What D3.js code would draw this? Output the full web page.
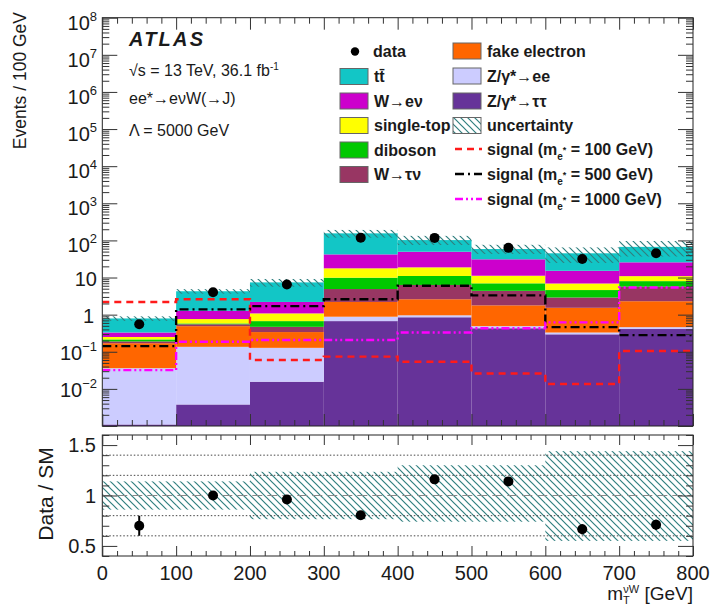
<!DOCTYPE html>
<html>
<head>
<meta charset="utf-8">
<script src="https://cdn.jsdelivr.net/npm/d3@7"></script>
<style>
  body { margin: 0; background: #fff; }
  svg { display: block; }
  text { font-family: "Liberation Sans", Arial, Helvetica, sans-serif; fill: #1a1a1a; }
</style>
</head>
<body>
<svg id="chart" width="712" height="606"></svg>
<script>
// bin edges in m_T (GeV)
const binEdges = [0, 100, 200, 300, 400, 500, 600, 700, 800];

// background components per bin (events / 100 GeV), bottom of stack first
const ztautau   = [0.0011, 0.0038, 0.0156, 0.67, 0.85, 0.43, 0.295, 0.41];
const zee       = [0.035, 0.132, 0.112, 0.21, 0.11, 0.06, 0.035, 0.05];
const fakeEl    = [0.134, 0.354, 0.212, 1.32, 1.64, 1.29, 1.2, 1.84];
const wtaunu    = [0.02, 0.06, 0.13, 2.7, 3.7, 2.6, 1.37, 3.35];
const diboson   = [0.025, 0.03, 0.2, 5.0, 4.7, 2.6, 1.7, 2.35];
const singleTop = [0.035, 0.18, 0.41, 7.8, 7.8, 4.2, 2.3, 2.9];
const wenu      = [0.08, 0.51, 1.12, 24.3, 30.7, 19.8, 8.3, 14.8];
const ttbar     = [0.46, 3.0, 5.2, 113, 52.5, 27.6, 29.8, 41.3];

// data
const dataEvents = [0.55, 4.0, 6.5, 118, 117, 63, 31.5, 45];
const ratio      = [0.70, 1.00, 0.96, 0.805, 1.16, 1.14, 0.665, 0.71];
const ratioErr   = [0.10, 0.03, 0.03, 0.02, 0.03, 0.04, 0.05, 0.05];

// relative systematic uncertainty on the SM prediction
const uncUp   = [0.14, 0.14, 0.235, 0.235, 0.30, 0.30, 0.44, 0.44];
const uncDown = [0.14, 0.14, 0.235, 0.235, 0.26, 0.26, 0.45, 0.45];

// signal hypotheses
const sig100  = [2.2, 2.6, 0.060, 0.074, 0.054, 0.026, 0.0135, 0.105];
const sig500  = [0.142, 1.39, 1.7, 2.6, 6.0, 3.3, 0.46, 0.28];
const sig1000 = [0.032, 0.186, 0.207, 0.207, 0.33, 0.43, 0.62, 5.4];

const bkgKeys   = ["ztautau", "zee", "fakeEl", "wtaunu", "diboson", "singleTop", "wenu", "ttbar"];
const bkgArrays = { ztautau, zee, fakeEl, wtaunu, diboson, singleTop, wenu, ttbar };
const colors = {
  ttbar: "#12c6c6", wenu: "#cc00cc", singleTop: "#ffff00", diboson: "#00c800",
  wtaunu: "#983663", fakeEl: "#ff6600", zee: "#ccccff", ztautau: "#663399"
};
const hatchColor = "#2f7f7f";

const svg = d3.select("#chart");
const L = 102.3, R = 693;
const mainTop = 17.7, mainBot = 426;
const ratTop = 435, ratBot = 556;

const x = d3.scaleLinear().domain([0, 800]).range([L, R]);
const y = d3.scaleLog().domain([1e-3, 1e8]).range([mainBot, mainTop]);
const yr = d3.scaleLinear().domain([0.4, 1.6]).range([ratBot, ratTop]);

// hatch pattern
const defs = svg.append("defs");
const pat = defs.append("pattern").attr("id", "hatch")
  .attr("patternUnits", "userSpaceOnUse").attr("width", 7).attr("height", 7);
pat.append("path").attr("d", "M-1,-1 L8,8 M-1,6 L1,8 M6,-1 L8,1")
  .attr("stroke", hatchColor).attr("stroke-width", 1.2);
defs.append("clipPath").attr("id", "clipMain").append("rect")
  .attr("x", L).attr("y", mainTop).attr("width", R - L).attr("height", mainBot - mainTop);
defs.append("clipPath").attr("id", "clipRat").append("rect")
  .attr("x", L).attr("y", ratTop).attr("width", R - L).attr("height", ratBot - ratTop);

// ---------- main panel ----------
const rows = binEdges.slice(0, -1).map((lo, i) => {
  const r = { lo, hi: binEdges[i + 1] };
  bkgKeys.forEach(k => r[k] = bkgArrays[k][i]);
  return r;
});
const stacked = d3.stack().keys(bkgKeys)(rows);
const totals = rows.map(r => d3.sum(bkgKeys, k => r[k]));

const gMain = svg.append("g").attr("clip-path", "url(#clipMain)");
gMain.selectAll("g.layer").data(stacked).join("g")
  .attr("class", "layer")
  .attr("fill", d => colors[d.key])
  .selectAll("rect").data(d => d).join("rect")
  .attr("x", d => x(d.data.lo))
  .attr("width", d => x(d.data.hi) - x(d.data.lo))
  .attr("y", d => y(d[1]))
  .attr("height", d => y(Math.max(d[0], 1e-3)) - y(d[1]));

// uncertainty band
gMain.selectAll("rect.unc").data(rows).join("rect")
  .attr("class", "unc")
  .attr("x", d => x(d.lo)).attr("width", d => x(d.hi) - x(d.lo))
  .attr("y", (d, i) => y(totals[i] * (1 + uncUp[i])))
  .attr("height", (d, i) => y(totals[i] * (1 - uncDown[i])) - y(totals[i] * (1 + uncUp[i])))
  .attr("fill", "url(#hatch)");

// signal step lines
function stepPoints(vals) {
  const pts = [];
  vals.forEach((v, i) => { pts.push([binEdges[i], v]); pts.push([binEdges[i + 1], v]); });
  return pts;
}
const line = d3.line().x(d => x(d[0])).y(d => y(d[1]));
const signals = [
  { vals: sig100, color: "#ff1a1a", dash: "7,5" },
  { vals: sig500, color: "#000000", dash: "9,4,2,4" },
  { vals: sig1000, color: "#ff00ff", dash: "8,3,2,3,2,3" }
];
gMain.selectAll("path.sig").data(signals).join("path")
  .attr("class", "sig")
  .attr("d", d => line(stepPoints(d.vals)))
  .attr("fill", "none").attr("stroke", d => d.color)
  .attr("stroke-width", 2.4).attr("stroke-dasharray", d => d.dash);

// data points
gMain.selectAll("circle.data").data(dataEvents).join("circle")
  .attr("class", "data")
  .attr("cx", (d, i) => x((binEdges[i] + binEdges[i + 1]) / 2))
  .attr("cy", d => y(d)).attr("r", 5).attr("fill", "#000");

// ---------- ratio panel ----------
const gRat = svg.append("g").attr("clip-path", "url(#clipRat)");
gRat.selectAll("rect.unc").data(rows).join("rect")
  .attr("x", d => x(d.lo)).attr("width", d => x(d.hi) - x(d.lo))
  .attr("y", (d, i) => yr(1 + uncUp[i]))
  .attr("height", (d, i) => yr(1 - uncDown[i]) - yr(1 + uncUp[i]))
  .attr("fill", "url(#hatch)");

const refLines = [0.6, 0.8, 1.2, 1.4];
gRat.selectAll("line.dot").data(refLines).join("line")
  .attr("x1", L).attr("x2", R).attr("y1", d => yr(d)).attr("y2", d => yr(d))
  .attr("stroke", "#444").attr("stroke-width", 1).attr("stroke-dasharray", "1.5,2");
gRat.append("line").attr("x1", L).attr("x2", R).attr("y1", yr(1)).attr("y2", yr(1))
  .attr("stroke", "#888").attr("stroke-width", 1.2).attr("stroke-dasharray", "10,5");

const cx = i => x((binEdges[i] + binEdges[i + 1]) / 2);
gRat.selectAll("line.err").data(ratio).join("line")
  .attr("x1", (d, i) => cx(i)).attr("x2", (d, i) => cx(i))
  .attr("y1", (d, i) => yr(d - ratioErr[i])).attr("y2", (d, i) => yr(d + ratioErr[i]))
  .attr("stroke", "#000").attr("stroke-width", 2);
gRat.selectAll("circle").data(ratio).join("circle")
  .attr("cx", (d, i) => cx(i)).attr("cy", d => yr(d)).attr("r", 5).attr("fill", "#000");

// ---------- frames & ticks ----------
function noDomain(g) { g.select(".domain").remove(); g.selectAll("line").attr("stroke", "#333"); }

[[mainTop, mainBot], [ratTop, ratBot]].forEach(([t, b]) => {
  svg.append("rect").attr("x", L).attr("y", t).attr("width", R - L).attr("height", b - t)
    .attr("fill", "none").attr("stroke", "#222").attr("stroke-width", 1);
});

const xMajor = d3.range(0, 801, 100);
const xMinor = d3.range(0, 801, 20).filter(v => v % 100 !== 0);
[[mainTop, mainBot, 12, 6], [ratTop, ratBot, 10, 5]].forEach(([t, b, big, small]) => {
  svg.append("g").attr("transform", `translate(0,${b})`)
    .call(d3.axisBottom(x).tickValues(xMajor).tickSize(-big).tickFormat("")).call(noDomain);
  svg.append("g").attr("transform", `translate(0,${b})`)
    .call(d3.axisBottom(x).tickValues(xMinor).tickSize(-small).tickFormat("")).call(noDomain);
  svg.append("g").attr("transform", `translate(0,${t})`)
    .call(d3.axisTop(x).tickValues(xMajor).tickSize(-big).tickFormat("")).call(noDomain);
  svg.append("g").attr("transform", `translate(0,${t})`)
    .call(d3.axisTop(x).tickValues(xMinor).tickSize(-small).tickFormat("")).call(noDomain);
});

const yMajor = d3.range(-3, 9).map(e => Math.pow(10, e));
const yMinor = [];
d3.range(-3, 8).forEach(e => { for (let m = 2; m <= 9; m++) yMinor.push(m * Math.pow(10, e)); });
svg.append("g").attr("transform", `translate(${L},0)`)
  .call(d3.axisLeft(y).tickValues(yMajor).tickSize(-15).tickFormat("")).call(noDomain);
svg.append("g").attr("transform", `translate(${L},0)`)
  .call(d3.axisLeft(y).tickValues(yMinor).tickSize(-7).tickFormat("")).call(noDomain);
svg.append("g").attr("transform", `translate(${R},0)`)
  .call(d3.axisRight(y).tickValues(yMajor).tickSize(-15).tickFormat("")).call(noDomain);
svg.append("g").attr("transform", `translate(${R},0)`)
  .call(d3.axisRight(y).tickValues(yMinor).tickSize(-7).tickFormat("")).call(noDomain);

const rMajor = [0.5, 1, 1.5];
const rMinor = d3.range(0.4, 1.61, 0.1).map(v => +v.toFixed(1)).filter(v => !rMajor.includes(v));
svg.append("g").attr("transform", `translate(${L},0)`)
  .call(d3.axisLeft(yr).tickValues(rMajor).tickSize(-15).tickFormat("")).call(noDomain);
svg.append("g").attr("transform", `translate(${L},0)`)
  .call(d3.axisLeft(yr).tickValues(rMinor).tickSize(-7).tickFormat("")).call(noDomain);
svg.append("g").attr("transform", `translate(${R},0)`)
  .call(d3.axisRight(yr).tickValues(rMajor).tickSize(-15).tickFormat("")).call(noDomain);
svg.append("g").attr("transform", `translate(${R},0)`)
  .call(d3.axisRight(yr).tickValues(rMinor).tickSize(-7).tickFormat("")).call(noDomain);

// ---------- tick labels ----------
const yLabelExp = d3.range(-2, 9);
yLabelExp.forEach(e => {
  const t = svg.append("text").attr("x", e === 0 ? 94 : 97).attr("y", y(Math.pow(10, e)) + (e <= 1 ? 8 : 12))
    .attr("text-anchor", "end").style("font-size", "20px");
  if (e === 0) t.text("1");
  else if (e === 1) t.text("10");
  else {
    t.text("10");
    t.append("tspan").attr("dy", -9).style("font-size", "13px").text(e < 0 ? "\u2212" + (-e) : e);
  }
});
xMajor.forEach(v => {
  svg.append("text").attr("x", x(v)).attr("y", 580).attr("text-anchor", "middle")
    .style("font-size", "20px").text(v);
});
rMajor.forEach(v => {
  svg.append("text").attr("x", 96).attr("y", yr(v) + 7).attr("text-anchor", "end")
    .style("font-size", "20px").text(v);
});

// axis titles
svg.append("text").attr("transform", "translate(26,12) rotate(-90)")
  .attr("text-anchor", "end").style("font-size", "17.5px").text("Events / 100 GeV");
svg.append("text").attr("transform", "translate(53,494) rotate(-90)")
  .attr("text-anchor", "middle").style("font-size", "21px").text("Data / SM");
const xt = svg.append("text").attr("x", 693).attr("y", 600).attr("text-anchor", "end")
  .style("font-size", "19px");
xt.append("tspan").text("m");
xt.append("tspan").attr("dy", 4).style("font-size", "11px").text("T");
xt.append("tspan").attr("dx", -6.5).attr("dy", -11).style("font-size", "11px").text("\u03bdW");
xt.append("tspan").attr("dy", 7).text(" [GeV]");

// ---------- annotations ----------
svg.append("text").attr("x", 129).attr("y", 46).style("font-size", "20px")
  .style("font-weight", "bold").style("font-style", "italic")
  .attr("textLength", 74).attr("lengthAdjust", "spacing").text("ATLAS");
const s1 = svg.append("text").attr("x", 129).attr("y", 76).style("font-size", "16px");
s1.append("tspan").text("\u221as = 13 TeV, 36.1 fb");
s1.append("tspan").attr("dy", -6).style("font-size", "10px").text("-1");
svg.append("text").attr("x", 129).attr("y", 104).style("font-size", "16px")
  .text("ee*\u2192e\u03bdW(\u2192J)");
svg.append("text").attr("x", 129).attr("y", 136).style("font-size", "16px")
  .text("\u039b = 5000 GeV");

// ---------- legend ----------
const legFont = "16px";
const col1 = [
  { key: "ttbar", label: "tt\u0304", yc: 76.5 },
  { key: "wenu", label: "W\u2192e\u03bd", yc: 101 },
  { key: "singleTop", label: "single-top", yc: 125.5 },
  { key: "diboson", label: "diboson", yc: 150 },
  { key: "wtaunu", label: "W\u2192\u03c4\u03bd", yc: 174.5 }
];
const col2 = [
  { key: "fakeEl", label: "fake electron", yc: 51 },
  { key: "zee", label: "Z/\u03b3*\u2192ee", yc: 76 },
  { key: "ztautau", label: "Z/\u03b3*\u2192\u03c4\u03c4", yc: 101 }
];
svg.append("circle").attr("cx", 355).attr("cy", 51.5).attr("r", 4.2).attr("fill", "#000");
svg.append("text").attr("x", 373).attr("y", 57).style("font-size", legFont)
  .style("font-weight", "bold").text("data");
const legBox = (bx, items) => {
  items.forEach(it => {
    svg.append("rect").attr("x", bx).attr("y", it.yc - 8).attr("width", 28).attr("height", 16)
      .attr("fill", colors[it.key]).attr("stroke", "#666").attr("stroke-width", 1);
    svg.append("text").attr("x", bx + 34).attr("y", it.yc + 5.5).style("font-size", legFont)
      .style("font-weight", "bold").text(it.label);
  });
};
legBox(340, col1);
legBox(453, col2);
svg.append("rect").attr("x", 453).attr("y", 117.5).attr("width", 28).attr("height", 16)
  .attr("fill", "url(#hatch)").attr("stroke", "#666").attr("stroke-width", 1);
svg.append("text").attr("x", 487).attr("y", 131).style("font-size", legFont)
  .style("font-weight", "bold").text("uncertainty");

const sigLabels = ["100", "500", "1000"];
signals.forEach((s, i) => {
  const yc = 149 + i * 25;
  svg.append("line").attr("x1", 455).attr("x2", 482).attr("y1", yc).attr("y2", yc)
    .attr("stroke", s.color).attr("stroke-width", 2.4).attr("stroke-dasharray", s.dash);
  const t = svg.append("text").attr("x", 487).attr("y", yc + 5.5).style("font-size", legFont)
    .style("font-weight", "bold");
  t.append("tspan").text("signal (m");
  t.append("tspan").attr("dy", 5).style("font-size", "10px").text("e");
  t.append("tspan").attr("dy", -7).style("font-size", "9px").text("*");
  t.append("tspan").attr("dy", 2).text(" = " + sigLabels[i] + " GeV)");
});
</script>
</body>
</html>
